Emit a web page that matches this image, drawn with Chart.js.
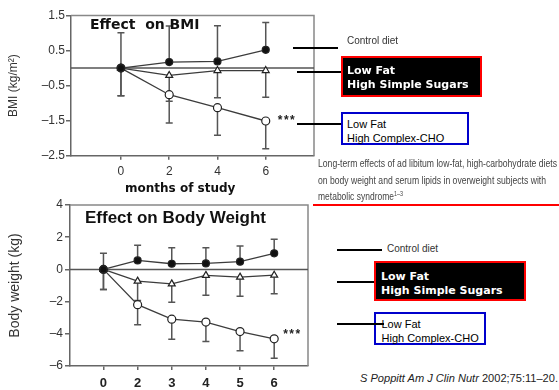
<!DOCTYPE html>
<html>
<head>
<meta charset="utf-8">
<script src="https://cdn.jsdelivr.net/npm/chart.js@4.4.1/dist/chart.umd.min.js"></script>
<style>
  html, body { margin: 0; padding: 0; background: #fff; }
  body { width: 559px; height: 390px; position: relative; overflow: hidden;
         font-family: "Liberation Sans", Arial, sans-serif; color: #000; }
  canvas { position: absolute; left: 0; }
  .t { position: absolute; white-space: pre; line-height: 1; transform-origin: 0 50%;
       transform: translateY(-50%); }
  .title { font-family: "DejaVu Sans", Verdana, sans-serif; font-weight: bold; color: #111; }
  .rule { position: absolute; height: 2px; background: #000; }
  .box { position: absolute; box-sizing: border-box; border: 2px solid; }
  .dark { background: #000; border-color: #ff0000; }
  .light { background: #fff; border-color: #0000cc; }
  .bold { font-family: "DejaVu Sans", Verdana, sans-serif; font-weight: bold; color: #fff; font-size: 11px; }
  .plain { font-size: 11px; color: #000; }
  .small { font-size: 10px; color: #333; }
  .cap { font-size: 11px; color: #444; }
  sup { font-size: 7px; vertical-align: 4px; }
</style>
</head>
<body>
<canvas id="bmi" width="320" height="200" style="top:0"></canvas>
<canvas id="bw" width="320" height="195" style="top:195px"></canvas>

<!-- panel titles -->
<div class="t title" style="left:90px; top:24px; font-size:14px">Effect  on BMI</div>
<div class="t title" style="left:85px; top:217px; font-size:17px; font-family:'Liberation Sans', Arial, sans-serif">Effect on Body Weight</div>
<div class="t title" style="left:125px; top:187.5px; font-size:12px">months of study</div>

<!-- diet key, upper panel -->
<div class="rule" style="left:293px; top:47px; width:45px"></div>
<div class="t small" style="left:347px; top:41px">Control diet</div>
<div class="box dark" style="left:341px; top:56px; width:141px; height:41px"></div>
<div class="t bold" style="left:347px; top:70px">Low Fat</div>
<div class="t bold" style="left:347px; top:84px">High Simple Sugars</div>
<div class="rule" style="left:297px; top:71px; width:44px"></div>
<div class="box light" style="left:341px; top:112px; width:128px; height:33px"></div>
<div class="t plain" style="left:347px; top:124px">Low Fat</div>
<div class="t plain" style="left:347px; top:137.5px">High Complex-CHO</div>
<div class="rule" style="left:297px; top:123px; width:44px"></div>

<!-- source caption -->
<div class="t cap fit" data-w="239" style="left:318px; top:163px">Long-term effects of ad libitum low-fat, high-carbohydrate diets</div>
<div class="t cap fit" data-w="228" style="left:318px; top:180px">on body weight and serum lipids in overweight subjects with</div>
<div class="t cap fit" data-w="85" style="left:318px; top:196px">metabolic syndrome<sup>1–3</sup></div>
<div class="rule" style="left:313px; top:204px; width:246px; background:#ff0000"></div>

<!-- diet key, lower panel -->
<div class="rule" style="left:337px; top:249px; width:45px"></div>
<div class="t small" style="left:387px; top:249px">Control diet</div>
<div class="box dark" style="left:374px; top:261px; width:152px; height:40px"></div>
<div class="t bold" style="left:381px; top:276px">Low Fat</div>
<div class="t bold" style="left:381px; top:290px">High Simple Sugars</div>
<div class="rule" style="left:337px; top:281px; width:37px"></div>
<div class="box light" style="left:374px; top:312px; width:112px; height:33px"></div>
<div class="t plain" style="left:381.5px; top:324px">Low Fat</div>
<div class="t plain" style="left:381.5px; top:337.5px">High Complex-CHO</div>
<div class="rule" style="left:337px; top:323px; width:47px"></div>

<div class="t fit" data-w="198" style="left:360px; top:378px; font-size:11px; color:#222"><i>S Poppitt Am J Clin Nutr</i> 2002;75:11–20.</div>

<script>
// ---- BMI change (kg/m²) by month ----
const bmiMonths = [0, 2, 4, 6];
const bmiControl = [0, 0.17, 0.19, 0.52];
const bmiControlSD = [1.01, 1.03, 1.02, 0.78];
const bmiSimple = [0, -0.21, -0.07, -0.07];
const bmiSimpleSD = [0.79, 0.74, 0.78, 0.76];
const bmiComplex = [0, -0.76, -1.13, -1.51];
const bmiComplexSD = [0.79, 0.81, 0.79, 0.79];
const bmiTicks = [-2.5, -1.5, -0.5, 0.5, 1.5];

// ---- body weight change (kg) by month ----
const bwMonths = ['0', '2', '3', '4', '5', '6'];
const bwControl = [0, 0.56, 0.35, 0.37, 0.48, 1.0];
const bwControlSD = [1.0, 0.94, 1.0, 0.98, 0.98, 0.88];
const bwSimple = [0, -0.73, -0.9, -0.37, -0.48, -0.36];
const bwSimpleSD = [1.25, 1.2, 1.14, 1.23, 1.19, 1.16];
const bwComplex = [0, -2.19, -3.09, -3.27, -3.86, -4.31];
const bwComplexSD = [1.25, 1.25, 1.25, 1.21, 1.2, 1.21];
const bwTicks = [-6, -4, -2, 0, 2, 4];

const sigMark = '***';

const LINE = '#3c3c3c';
const AXIS = '#666';

// frame, zero line and one-sided SD whiskers under the series
const panelDecor = {
  id: 'panelDecor',
  beforeDatasetsDraw(chart) {
    const { ctx, chartArea: a, scales: { y } } = chart;
    ctx.save();
    ctx.lineWidth = 1.5;
    ctx.strokeStyle = '#888';
    ctx.beginPath();
    ctx.moveTo(a.left, a.top);
    ctx.lineTo(a.right, a.top);
    ctx.lineTo(a.right, a.bottom);
    ctx.stroke();
    const y0 = y.getPixelForValue(0);
    ctx.strokeStyle = '#555';
    ctx.beginPath();
    ctx.moveTo(a.left, y0);
    ctx.lineTo(a.right, y0);
    ctx.stroke();

    ctx.strokeStyle = '#555';
    ctx.lineWidth = 1.5;
    chart.data.datasets.forEach((ds, di) => {
      if (!ds.sd) return;
      const meta = chart.getDatasetMeta(di);
      ds.data.forEach((pt, i) => {
        const px = meta.data[i].x;
        const from = y.getPixelForValue(pt.y);
        const to = y.getPixelForValue(pt.y + ds.sdDir * ds.sd[i]);
        ctx.beginPath();
        ctx.moveTo(px, from);
        ctx.lineTo(px, to);
        ctx.moveTo(px - 3.5, to);
        ctx.lineTo(px + 3.5, to);
        ctx.stroke();
      });
    });
    ctx.restore();
  },
  afterDatasetsDraw(chart) {
    const { ctx } = chart;
    chart.data.datasets.forEach((ds, di) => {
      if (!ds.mark) return;
      const meta = chart.getDatasetMeta(di);
      const last = meta.data[meta.data.length - 1];
      ctx.save();
      ctx.fillStyle = '#222';
      ctx.font = 'bold 12px "Liberation Sans", Arial, sans-serif';
      ctx.letterSpacing = '1.5px';
      ctx.textAlign = 'left';
      ctx.textBaseline = 'middle';
      ctx.fillText(ds.mark, last.x + ds.markDx, last.y + ds.markDy);
      ctx.restore();
    });
  }
};

function series(xs, ys, sd, dir, style, extra) {
  return Object.assign({
    data: ys.map((v, i) => ({ x: xs[i], y: v })),
    sd: sd,
    sdDir: dir,
    borderColor: LINE,
    borderWidth: 1.3,
    pointBorderColor: '#222',
    pointBorderWidth: 1.2,
    tension: 0
  }, style, extra || {});
}

const filled = { pointStyle: 'circle', pointRadius: 3.5, pointBackgroundColor: '#111' };
const tri = { pointStyle: 'triangle', pointRadius: 4, pointBackgroundColor: '#fff' };
const ring = { pointStyle: 'circle', pointRadius: 4, pointBackgroundColor: '#fff' };

function yAxis(ticks, width, title, titleSize, titlePad, fmt, fontSize, pad) {
  return {
    type: 'linear',
    min: ticks[0],
    max: ticks[ticks.length - 1],
    afterBuildTicks: s => { s.ticks = ticks.map(v => ({ value: v })); },
    afterFit: s => { s.width = width; },
    grid: { drawOnChartArea: false, drawTicks: true, tickLength: 5, color: AXIS, lineWidth: 1.5 },
    border: { display: true, color: AXIS, width: 1.5 },
    ticks: { color: '#333', font: { size: fontSize, family: '"Liberation Sans", Arial, sans-serif' },
             padding: pad, callback: fmt },
    title: { display: true, text: title, color: '#333',
             font: { size: titleSize, family: '"Liberation Sans", Arial, sans-serif' },
             padding: { top: titlePad, bottom: 0 } }
  };
}

const dash = s => s.replace('-', '–');

// upper panel: BMI
const bmiX = bmiMonths;
new Chart(document.getElementById('bmi'), {
  type: 'line',
  data: {
    datasets: [
      series(bmiX, bmiControl, bmiControlSD, 1, filled),
      series(bmiX, bmiSimple, bmiSimpleSD, -1, tri),
      series(bmiX, bmiComplex, bmiComplexSD, -1, ring, { mark: sigMark, markDx: 12, markDy: 0 })
    ]
  },
  options: {
    responsive: false,
    animation: false,
    devicePixelRatio: 1,
    layout: { padding: { top: 15.5, right: 6, left: 0, bottom: 0 } },
    plugins: { legend: { display: false }, tooltip: { enabled: false } },
    scales: {
      x: {
        type: 'linear', min: -2.07, max: 8,
        afterBuildTicks: s => { s.ticks = bmiMonths.map(v => ({ value: v })); },
        afterFit: s => { s.height = 44.3; },
        grid: { drawOnChartArea: false, drawTicks: true, tickLength: 4, color: AXIS, lineWidth: 1.5 },
        border: { display: true, color: AXIS, width: 1.5 },
        ticks: { color: '#333', padding: 5, maxRotation: 0,
                 font: { size: 12, family: '"Liberation Sans", Arial, sans-serif' },
                 callback: v => String(v) }
      },
      y: yAxis(bmiTicks, 71, 'BMI (kg/m²)', 12, 6, v => dash(v.toFixed(1)), 12, 1)
    }
  },
  plugins: [panelDecor]
});

// lower panel: body weight
const bwX = bwMonths.map((m, i) => i);
new Chart(document.getElementById('bw'), {
  type: 'line',
  data: {
    datasets: [
      series(bwX, bwControl, bwControlSD, 1, filled),
      series(bwX, bwSimple, bwSimpleSD, -1, tri),
      series(bwX, bwComplex, bwComplexSD, -1, ring, { mark: sigMark, markDx: 9, markDy: -4 })
    ]
  },
  options: {
    responsive: false,
    animation: false,
    devicePixelRatio: 1,
    layout: { padding: { top: 10, right: 12, left: 0, bottom: 0 } },
    plugins: { legend: { display: false }, tooltip: { enabled: false } },
    scales: {
      x: {
        type: 'linear', min: -0.98, max: 5.99,
        afterBuildTicks: s => { s.ticks = bwX.map(v => ({ value: v })); },
        afterFit: s => { s.height = 24; },
        grid: { drawOnChartArea: false, drawTicks: true, tickLength: 4, color: AXIS, lineWidth: 1.5 },
        border: { display: true, color: AXIS, width: 1.5 },
        ticks: { color: '#222', padding: 6, maxRotation: 0,
                 font: { size: 13, weight: 'bold', family: '"Liberation Sans", Arial, sans-serif' },
                 callback: v => bwMonths[v] }
      },
      y: yAxis(bwTicks, 70, 'Body weight (kg)', 14, 6.6, v => dash(String(v)), 12, 2)
    }
  },
  plugins: [panelDecor]
});

// squeeze the narrow caption lines to their set widths
document.querySelectorAll('.fit').forEach(el => {
  const w = el.getBoundingClientRect().width;
  const target = parseFloat(el.dataset.w);
  el.style.transform = 'translateY(-50%) scaleX(' + (target / w) + ')';
});
</script>
</body>
</html>
